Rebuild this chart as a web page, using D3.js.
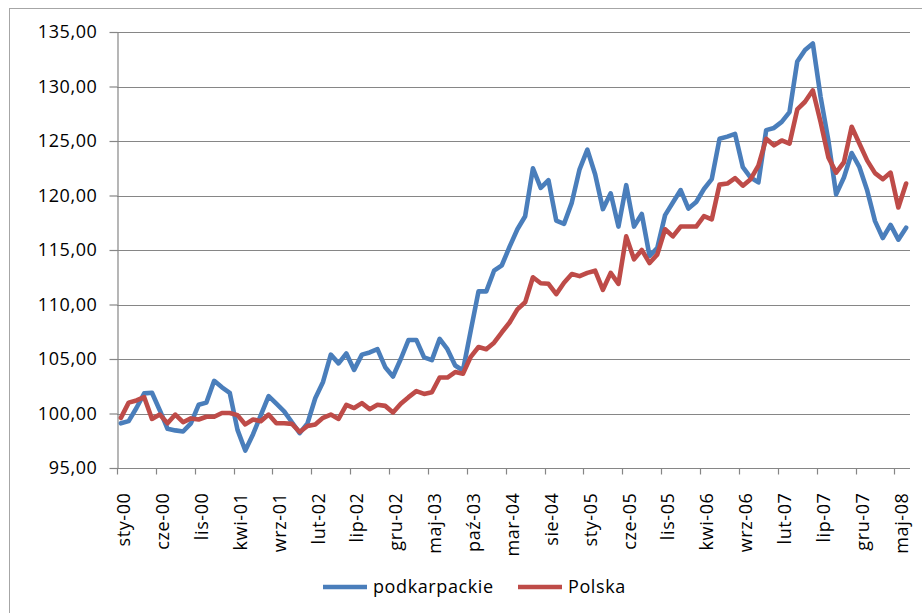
<!DOCTYPE html>
<html>
<head>
<meta charset="utf-8">
<script src="https://cdn.jsdelivr.net/npm/d3@7"></script>
<style>
  body { margin: 0; background: #fff; }
  svg text { font-family: "Open Sans", "Liberation Sans", sans-serif; fill: #000; }
</style>
</head>
<body>
<svg id="chart" width="922" height="613"></svg>
<script>
"use strict";

// ==========================
// data
// ==========================
var monthNames = ["sty", "lut", "mar", "kwi", "maj", "cze", "lip", "sie", "wrz", "paź", "lis", "gru"];
var years = ["00", "01", "02", "03", "04", "05", "06", "07", "08"];

// monthly categories, sty-00 .. cze-08
var categories = [];
years.forEach(function (y) {
  monthNames.forEach(function (m) { categories.push(m + "-" + y); });
});
categories = categories.slice(0, 102);

var podkarpackie = [
  99.1, 99.3, 100.5, 101.85, 101.9, 100.3, 98.6, 98.45, 98.35, 99.1,
  100.8, 101.0, 103.0, 102.4, 101.9, 98.5, 96.6, 98.1, 99.85, 101.6,
  100.9, 100.2, 99.2, 98.2, 99.1, 101.4, 102.9, 105.4, 104.6, 105.5,
  104.0, 105.4, 105.6, 105.9, 104.25, 103.4, 105.0, 106.75, 106.75, 105.15,
  104.9, 106.85, 105.9, 104.4, 103.95, 107.6, 111.2, 111.2, 113.1, 113.6,
  115.3, 116.9, 118.1, 122.5, 120.7, 121.4, 117.7, 117.4, 119.35, 122.4,
  124.2, 121.95, 118.75, 120.2, 117.15, 120.95, 117.15, 118.3, 114.45, 115.2,
  118.2, 119.35, 120.5, 118.8, 119.4, 120.6, 121.5, 125.2, 125.4, 125.65,
  122.6, 121.65, 121.2, 126.0, 126.2, 126.75, 127.65, 132.3, 133.35, 133.95,
  129.05, 125.05, 120.1, 121.65, 123.9, 122.6, 120.45, 117.65, 116.1, 117.3,
  115.95, 117.05
];

var polska = [
  99.6, 101.0, 101.2, 101.5, 99.5, 99.9, 99.1, 99.9, 99.2, 99.55,
  99.45, 99.7, 99.7, 100.05, 100.05, 99.85, 99.0, 99.45, 99.3, 99.9,
  99.1, 99.1, 99.05, 98.3, 98.85, 99.0, 99.6, 99.9, 99.5, 100.8,
  100.5, 100.95, 100.4, 100.8, 100.7, 100.1, 100.9, 101.5, 102.05, 101.8,
  101.95, 103.3, 103.3, 103.8, 103.65, 105.2, 106.1, 105.9, 106.5, 107.45,
  108.35, 109.55, 110.2, 112.5, 111.95, 111.9, 110.95, 112.0, 112.8, 112.6,
  112.9, 113.1, 111.35, 112.9, 111.9, 116.25, 114.15, 115.0, 113.8, 114.6,
  116.9, 116.25, 117.15, 117.15, 117.15, 118.1, 117.8, 121.0, 121.1, 121.6,
  120.9, 121.5, 122.75, 125.2, 124.6, 125.05, 124.75, 127.9, 128.6, 129.65,
  126.75, 123.5, 122.1, 123.05, 126.3, 124.75, 123.2, 122.05, 121.5, 122.1,
  118.9, 121.1
];

var seriesNames = ["podkarpackie", "Polska"];
var seriesColors = ["#4a7ebb", "#be4b48"];
var yTicks = [95, 100, 105, 110, 115, 120, 125, 130, 135];

// ==========================
// chart
// ==========================
var svg = d3.select("#chart");
var plot = { left: 117, right: 910, top: 32, bottom: 468 };

// chart area border
svg.append("rect")
  .attr("x", 9.5).attr("y", 8.5)
  .attr("width", 940).attr("height", 640)
  .attr("fill", "none").attr("stroke", "#a6a6a6").attr("stroke-width", 1);

var x = d3.scaleBand().domain(categories).range([plot.left, plot.right]).padding(0),
    y = d3.scaleLinear().domain([95, 135]).range([plot.bottom, plot.top]);

var pl = d3.formatLocale({ decimal: ",", thousands: " ", grouping: [3], currency: ["", " zł"] });
var fmt = pl.format(".2f");

// gridlines
svg.append("g").selectAll("line").data(yTicks.slice(1)).enter().append("line")
  .attr("x1", plot.left).attr("x2", plot.right)
  .attr("y1", function (d) { return Math.round(y(d)) + 0.5; })
  .attr("y2", function (d) { return Math.round(y(d)) + 0.5; })
  .attr("stroke", "#868686").attr("stroke-width", 1.2);

// y axis
var yAxis = svg.append("g").attr("transform", "translate(" + (plot.left + 0.5) + ",0)")
  .call(d3.axisLeft(y).tickValues(yTicks).tickFormat(fmt).tickSizeInner(8).tickSizeOuter(0).tickPadding(12));
yAxis.select(".domain").attr("stroke", "#868686").attr("stroke-width", 1.2);
yAxis.selectAll(".tick line").attr("stroke", "#868686").attr("stroke-width", 1.2);
yAxis.selectAll(".tick text").style("font-size", "18px").style("letter-spacing", "0.6px");

// x axis
var xTickCats = categories.filter(function (d, i) { return i % 5 === 0; });
var xAxis = svg.append("g").attr("transform", "translate(0," + (plot.bottom + 0.5) + ")");
xAxis.append("line")
  .attr("x1", plot.left).attr("x2", plot.right)
  .attr("stroke", "#868686").attr("stroke-width", 1.2);
xAxis.selectAll(".xtick").data(xTickCats).enter().append("line")
  .attr("class", "xtick")
  .attr("x1", function (d) { return Math.round(x(d)) + 0.5; })
  .attr("x2", function (d) { return Math.round(x(d)) + 0.5; })
  .attr("y1", 0).attr("y2", 6)
  .attr("stroke", "#868686").attr("stroke-width", 1.2);
xAxis.selectAll(".xlabel").data(xTickCats).enter().append("text")
  .attr("class", "xlabel")
  .attr("transform", function (d) {
    return "translate(" + (x(d) + x.bandwidth() / 2 + 3) + ",24) rotate(-90)";
  })
  .attr("dy", "0.35em")
  .attr("text-anchor", "end")
  .style("font-size", "18px")
  .style("letter-spacing", "0.6px")
  .text(function (d) { return d; });

// lines
var line = d3.line()
  .x(function (d, i) { return x(categories[i]) + x.bandwidth() / 2; })
  .y(function (d) { return y(d); });

[podkarpackie, polska].forEach(function (s, k) {
  svg.append("path").datum(s)
    .attr("d", line)
    .attr("fill", "none")
    .attr("stroke", seriesColors[k])
    .attr("stroke-width", 4.6)
    .attr("stroke-linejoin", "round")
    .attr("stroke-linecap", "round");
});

// legend
var legendX = [323, 518];
var legend = svg.append("g");
seriesNames.forEach(function (name, k) {
  legend.append("line")
    .attr("x1", legendX[k]).attr("x2", legendX[k] + 44)
    .attr("y1", 587).attr("y2", 587)
    .attr("stroke", seriesColors[k]).attr("stroke-width", 4.5);
  legend.append("text")
    .attr("x", legendX[k] + 50).attr("y", 587)
    .attr("dy", "0.35em")
    .style("font-size", "18px")
    .style("letter-spacing", "0.6px")
    .text(name);
});
</script>
</body>
</html>
